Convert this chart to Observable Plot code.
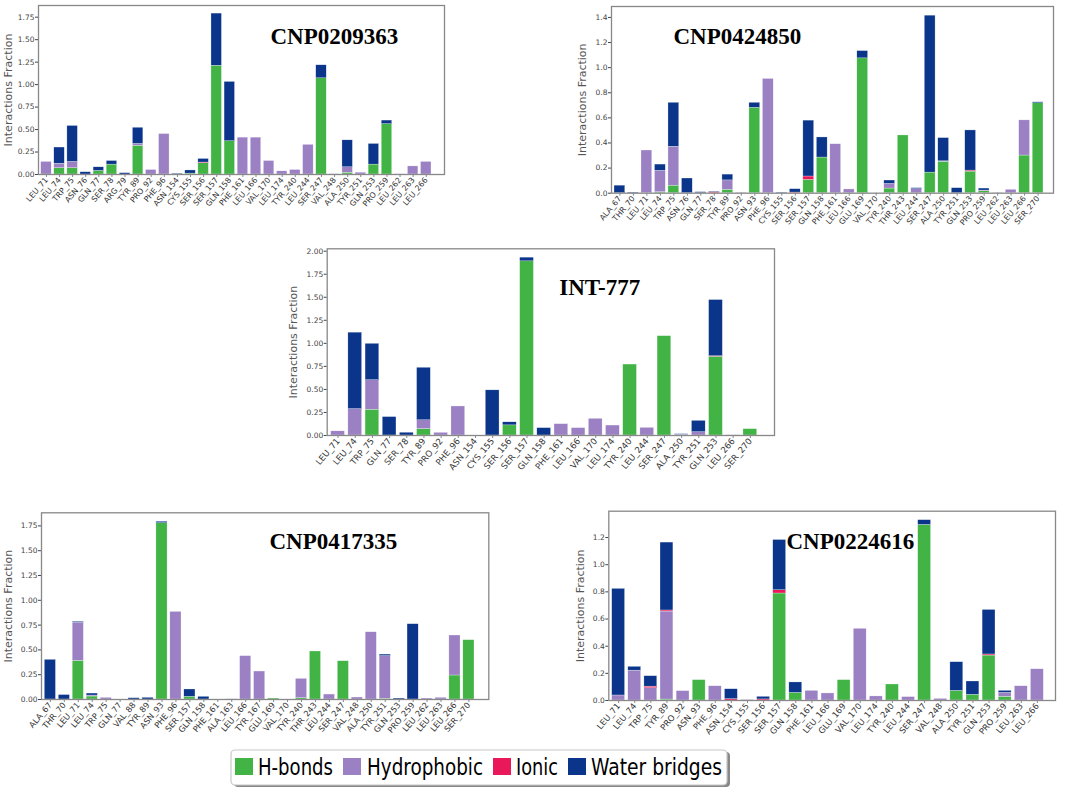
<!DOCTYPE html>
<html><head><meta charset="utf-8">
<script src="https://cdn.jsdelivr.net/npm/d3@7"></script>
<script src="https://cdn.jsdelivr.net/npm/@observablehq/plot@0.6"></script>
<style>
body{margin:0;background:#fff;}
#c{position:relative;width:1065px;height:789px;overflow:hidden;background:#fff;font-family:"DejaVu Sans",sans-serif;}
#c > svg{position:absolute;}
</style></head><body><div id="c"></div>
<script>
const types = ["H-bonds","Hydrophobic","Ionic","Water bridges"];
const colors = ["#41b445","#9b80c4","#e8185a","#0a358a"];

// Panel 1: CNP0209363
const p1Residues = ["LEU_71","LEU_74","TRP_75","ASN_76","GLN_77","SER_78","ARG_79","TYR_89","PRO_92","PHE_96","ASN_154","CYS_155","SER_156","SER_157","GLN_158","PHE_161","LEU_166","VAL_170","LEU_174","TYR_240","LEU_244","SER_247","VAL_248","ALA_250","TYR_251","GLN_253","PRO_259","LEU_262","LEU_263","LEU_266"];
const p1HBonds = [0,.07,.07,0,.04,.11,0,.32,0,0,0,.01,.125,1.21,.37,0,0,0,0,0,0,1.07,0,.02,0,.11,.56,0,0,0];
const p1Hydrophobic = [.14,.05,.07,0,0,0,0,.02,.05,.45,0,0,0,0,0,.41,.41,.15,.035,.05,.33,0,.003,.06,.02,0,0,.002,.09,.14];
const p1Ionic = [0,0,0,0,0,0,0,0,0,0,0,0,.008,0,0,0,0,0,0,0,0,0,0,0,0,0,0,0,0,0];
const p1Water = [0,.18,.40,.025,.04,.04,.015,.18,0,0,.008,.035,.04,.58,.66,0,0,0,0,0,0,.145,0,.30,0,.23,.04,0,0,0];
const p1Ticks = [0,0.25,0.5,0.75,1,1.25,1.5,1.75];

// Panel 2: CNP0424850
const p2Residues = ["ALA_67","THR_70","LEU_71","LEU_74","TRP_75","ASN_76","GLN_77","SER_78","TYR_89","PRO_92","ASN_93","PHE_96","CYS_155","SER_156","SER_157","GLN_158","PHE_161","LEU_166","GLU_169","VAL_170","TYR_240","THR_243","LEU_244","SER_247","ALA_250","TYR_251","GLN_253","PRO_259","LEU_262","LEU_263","LEU_266","SER_270"];
const p2HBonds = [0,0,0,.008,.06,0,0,0,.027,0,.68,0,0,0,.106,.284,0,0,1.074,0,.037,.46,0,.164,.25,0,.172,.016,0,0,.30,.716];
const p2Hydrophobic = [0,0,.34,.17,.31,0,0,0,.075,.003,0,.91,0,0,0,0,.39,.03,0,0,.037,0,.032,0,.004,0,0,.005,.002,.027,.28,0];
const p2Ionic = [0,0,0,0,0,0,0,.008,0,0,0,0,0,.005,.027,0,0,0,0,0,0,0,0,0,0,0,.008,0,0,0,0,0];
const p2Water = [.06,.005,0,.05,.35,.117,.008,.004,.046,0,.04,0,.004,.027,.445,.16,0,0,.058,0,.027,0,.008,1.25,.185,.04,.32,.016,0,0,0,.008];
const p2Ticks = [0,0.2,0.4,0.6,0.8,1.0,1.2,1.4];

// Panel 3: INT-777
const p3Residues = ["LEU_71","LEU_74","TRP_75","GLN_77","SER_78","TYR_89","PRO_92","PHE_96","ASN_154","CYS_155","SER_156","SER_157","GLN_158","PHE_161","LEU_166","VAL_170","LEU_174","TYR_240","LEU_244","SER_247","ALA_250","TYR_251","GLN_253","LEU_266","SER_270"];
const p3HBonds = [0,0,.28,0,0,.07,0,0,0,0,.11,1.89,0,0,0,0,0,.77,0,1.078,0,0,.854,0,.069];
const p3Hydrophobic = [.045,.286,.32,0,0,.095,.029,.315,0,0,0,0,0,.123,.08,.181,.108,0,.083,0,.008,.036,0,.002,0];
const p3Ionic = [0,0,0,0,0,0,0,0,0,0,0,0,0,0,0,0,0,0,0,0,0,0,.006,0,0];
const p3Water = [0,.83,.395,.20,.03,.57,0,0,0,.49,.033,.04,.08,0,0,0,0,0,0,0,.006,.123,.61,0,0];
const p3Ticks = [0,0.25,0.5,0.75,1,1.25,1.5,1.75,2];

// Panel 4: CNP0417335
const p4Residues = ["ALA_67","THR_70","LEU_71","LEU_74","TRP_75","GLN_77","VAL_88","TYR_89","ASN_93","PHE_96","SER_157","GLN_158","PHE_161","ALA_163","LEU_166","TYR_167","GLU_169","VAL_170","TYR_240","THR_243","LEU_244","SER_247","VAL_248","ALA_250","TYR_251","GLN_253","PRO_259","LEU_262","LEU_263","LEU_266","SER_270"];
const p4HBonds = [0,0,.39,.03,0,0,0,0,1.777,0,.027,0,0,0,0,0,.01,0,.013,.484,0,.386,0,0,.007,0,0,0,0,.242,.598];
const p4Hydrophobic = [0,0,.383,.01,.017,0,0,0,0,.883,0,0,0,.002,.437,.282,0,0,.195,0,.05,0,.02,.678,.43,0,0,.01,.017,.403,0];
const p4Ionic = [0,0,0,0,0,0,0,0,0,0,0,0,0,0,0,0,0,0,0,0,0,0,0,0,0,0,0,0,0,0,0];
const p4Water = [.40,.045,.01,.02,0,0,.013,.017,.015,0,.074,.027,0,0,0,0,0,0,0,0,0,0,0,0,.016,.01,.759,0,0,0,0];
const p4Ticks = [0,0.25,0.5,0.75,1,1.25,1.5,1.75];

// Panel 5: CNP0224616
const p5Residues = ["LEU_71","LEU_74","TRP_75","TYR_89","PRO_92","ASN_93","PHE_96","ASN_154","CYS_155","SER_156","SER_157","GLN_158","PHE_161","LEU_166","GLU_169","VAL_170","LEU_174","TYR_240","LEU_244","SER_247","VAL_248","ALA_250","TYR_251","GLN_253","PRO_259","LEU_263","LEU_266"];
const p5HBonds = [0,0,0,.007,0,.15,0,0,0,0,.788,.056,0,0,.15,0,0,.118,0,1.293,0,.071,.042,.331,.027,0,0];
const p5Hydrophobic = [.037,.22,.09,.648,.069,0,.105,0,.004,0,0,0,.071,.052,0,.528,.03,0,.025,0,.012,0,0,0,.029,.105,.23];
const p5Ionic = [0,0,.012,.008,0,0,0,.01,0,.008,.024,0,0,0,0,0,0,0,0,0,0,0,0,.008,0,0,0];
const p5Water = [.785,.028,.077,.5,0,0,0,.073,0,.019,.37,.077,0,0,0,0,0,0,0,.035,0,.211,.098,.328,.015,0,0];
const p5Ticks = [0,0.2,0.4,0.6,0.8,1.0,1.2];

const container = document.getElementById("c");

function panel(cfg) {
  const data = [];
  cfg.res.forEach((r, i) => {
    [cfg.hb, cfg.hy, cfg.io, cfg.wb].forEach((arr, k) => {
      data.push({res: r, type: types[k], v: arr[i]});
    });
  });
  const chart = Plot.plot({
    width: cfg.W, height: cfg.H,
    marginLeft: cfg.mL, marginRight: cfg.mR, marginTop: cfg.mT, marginBottom: cfg.mB,
    style: {fontFamily: "DejaVu Sans", fontSize: "7.5px", color: "#444", background: "transparent", overflow: "visible"},
    x: {domain: cfg.res, range: cfg.xr, paddingInner: 0.2, paddingOuter: 0, round: false, label: null, axis: null},
    y: {domain: [0, cfg.ymax], ticks: cfg.ticks, tickFormat: cfg.fmt, label: null, tickSize: 3, tickPadding: 1},
    color: {domain: types, range: colors},
    marks: [
      Plot.barY(data, Plot.stackY({order: types, x: "res", y: "v", fill: "type", stroke: "white", strokeWidth: 0.4, strokeOpacity: 0.7})),
      Plot.axisX({tickRotate: -50, tickSize: 3, tickPadding: 1, fontSize: cfg.xfs, fill: "#333", stroke: "#888", label: null}),
      Plot.frame({stroke: "#888", strokeWidth: 1.3}),
      Plot.text(["Interactions Fraction"], {frameAnchor: "left", dx: cfg.ylx, rotate: -90, textAnchor: "middle", text: d => d, fontSize: 11, fill: "#555"}),
      Plot.text([cfg.title], {frameAnchor: "top-left", dx: cfg.tx, dy: cfg.ty, text: d => d, textAnchor: "start", fontFamily: "Liberation Serif", fontWeight: "bold", fontSize: 23, fill: "#000"})
    ]
  });
  chart.style.left = cfg.left + "px";
  chart.style.top = cfg.top + "px";
  container.appendChild(chart);
}

// P1 frame: L38 R444 T5 B174
panel({res: p1Residues, hb: p1HBonds, hy: p1Hydrophobic, io: p1Ionic, wb: p1Water, ticks: p1Ticks, fmt: d3.format(".2f"),
  title: "CNP0209363", left: 0, top: 0, W: 450, H: 235, mL: 38, mR: 6, mT: 5, mB: 61,
  xr: [40.7, 431], ymax: 1.88, ylx: -30, tx: 232, ty: 22, xfs: 7.8});
// P2 frame: L611 R1053 T6 B192.7
panel({res: p2Residues, hb: p2HBonds, hy: p2Hydrophobic, io: p2Ionic, wb: p2Water, ticks: p2Ticks, fmt: d3.format(".1f"),
  title: "CNP0424850", left: 560, top: 0, W: 505, H: 235, mL: 51, mR: 12, mT: 6, mB: 42.3,
  xr: [54, 483], ymax: 1.487, ylx: -29, tx: 62, ty: 21, xfs: 7.8});
// P3 frame: L326.7 R774 T248.3 B435
panel({res: p3Residues, hb: p3HBonds, hy: p3Hydrophobic, io: p3Ionic, wb: p3Water, ticks: p3Ticks, fmt: d3.format(".2f"),
  title: "INT-777", left: 280, top: 235, W: 500, H: 245, mL: 46.7, mR: 6, mT: 13.3, mB: 45,
  xr: [50.7, 476.7], ymax: 2.026, ylx: -33.7, tx: 232, ty: 30, xfs: 8.6});
// P4 frame: L41 R488.3 T512.3 B699
panel({res: p4Residues, hb: p4HBonds, hy: p4Hydrophobic, io: p4Ionic, wb: p4Water, ticks: p4Ticks, fmt: d3.format(".2f"),
  title: "CNP0417335", left: 0, top: 485, W: 500, H: 260, mL: 41, mR: 11.7, mT: 27.3, mB: 46,
  xr: [44.3, 474], ymax: 1.882, ylx: -33, tx: 228, ty: 19.4, xfs: 8.2});
// P5 frame: L608.3 R1055 T510.7 B700
panel({res: p5Residues, hb: p5HBonds, hy: p5Hydrophobic, io: p5Ionic, wb: p5Water, ticks: p5Ticks, fmt: d3.format(".1f"),
  title: "CNP0224616", left: 560, top: 485, W: 505, H: 260, mL: 48.3, mR: 10, mT: 25.7, mB: 45,
  xr: [51.7, 483.3], ymax: 1.394, ylx: -28, tx: 177.7, ty: 21, xfs: 8.4});

// Legend
const legendX = [235, 343, 493, 568];
const legendTextX = [258, 367, 516, 591];
const legendTextW = [75, 116, 42, 131];
const lg = d3.create("svg").attr("width", 1065).attr("height", 60)
  .style("left", "0px").style("top", "735px");
lg.append("rect").attr("x", 234).attr("y", 17).attr("width", 496).attr("height", 35).attr("rx", 4).attr("fill", "#888");
lg.append("rect").attr("x", 231).attr("y", 15).attr("width", 496).attr("height", 35).attr("rx", 4).attr("fill", "#fff").attr("stroke", "#c8c8c8").attr("stroke-width", 1.2);
types.forEach((t, i) => {
  lg.append("rect").attr("x", legendX[i]).attr("y", 23).attr("width", 18).attr("height", 17).attr("fill", colors[i]);
  lg.append("text").attr("x", legendTextX[i]).attr("y", 40).attr("font-family", "DejaVu Sans").attr("font-size", 23)
    .attr("textLength", legendTextW[i]).attr("lengthAdjust", "spacingAndGlyphs").attr("fill", "#000").text(t);
});
container.appendChild(lg.node());
</script></body></html>
